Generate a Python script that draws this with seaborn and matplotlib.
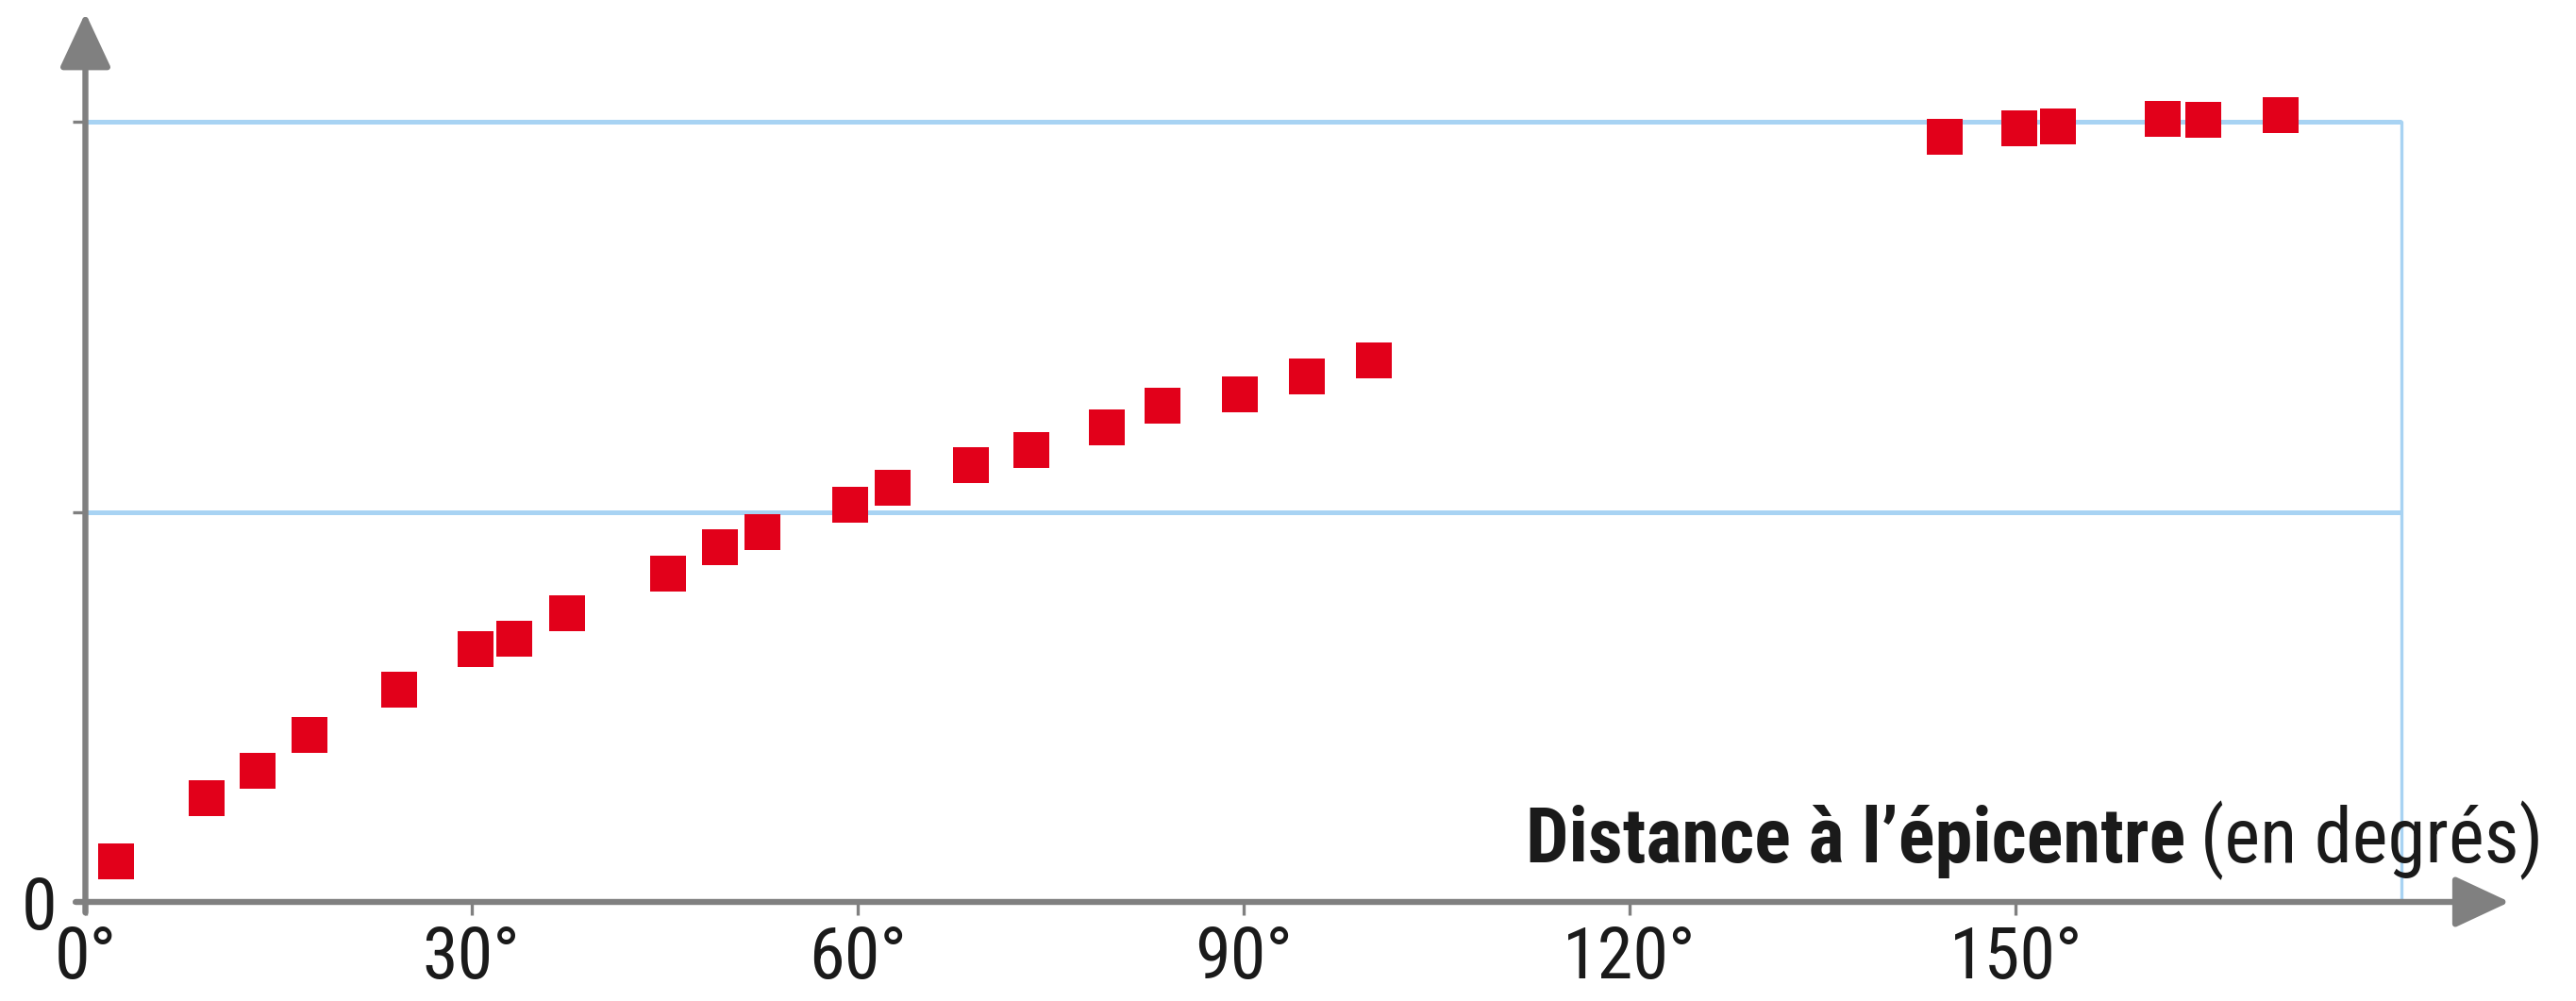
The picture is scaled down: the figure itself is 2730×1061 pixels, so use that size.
import matplotlib
matplotlib.use("Agg")
import matplotlib.pyplot as plt
from matplotlib import font_manager
import seaborn as sns
import pandas as pd

# Arrival times of seismic waves versus distance from the epicentre
distance_deg = [2.4, 9.4, 13.4, 17.4, 24.4, 30.3, 33.3, 37.4, 45.3, 49.3, 52.6,
                59.4, 62.7, 68.8, 73.5, 79.4, 83.7, 89.7, 94.9, 100.1,
                144.5, 150.3, 153.3, 161.4, 164.6, 170.6]
travel_time_min = [1.05, 2.65, 3.37, 4.29, 5.43, 6.48, 6.74, 7.41, 8.42, 9.09, 9.47,
                   10.19, 10.61, 11.2, 11.58, 12.17, 12.72, 13.01, 13.47, 13.89,
                   19.62, 19.83, 19.87, 20.08, 20.04, 20.17]

x_ticks = [0, 30, 60, 90, 120, 150]
x_tick_labels = ["0°", "30°", "60°", "90°", "120°", "150°"]
y_ticks = [0, 10, 20]
y_tick_labels = ["0", "", ""]
guide_levels = [10, 20]
guide_end = 180

df = pd.DataFrame({"distance": distance_deg, "time": travel_time_min})

sns.set_theme(style="white")

# Prefer a narrow sans face when one is installed
available = {f.name for f in font_manager.fontManager.ttflist}
face = "DejaVu Sans"
for cand in ["Liberation Sans Narrow", "Roboto Condensed", "DejaVu Sans Condensed",
             "Roboto"]:
    if cand in available:
        face = cand
        break
plt.rcParams["font.family"] = [face, "DejaVu Sans"]

W, H = 2730, 1061
fig = plt.figure(figsize=(W / 100, H / 100), dpi=100)
ax = fig.add_axes([90.5 / W, (H - 956) / H, 2564 / W, 938.6 / H])
ax.set_xlim(0, 188)
ax.set_ylim(0, 22.7)

axis_gray = "#808080"
guide_blue = "#a8d3f3"
text_col = "#1a1a1a"
fs_ticks = 55
fs_title = 46

# Light blue reference frame
for lvl in guide_levels:
    ax.plot([0, guide_end], [lvl, lvl], color=guide_blue, lw=3.6, zorder=1,
            solid_capstyle="butt")
ax.plot([guide_end, guide_end], [0, guide_levels[-1]], color=guide_blue, lw=2.4,
        zorder=1)

sns.scatterplot(data=df, x="distance", y="time", marker="s", s=780,
                color="#e2001a", linewidth=0, ax=ax, zorder=3)

for sp in ax.spines.values():
    sp.set_visible(False)

# Axes drawn as arrows
arrow_kw = dict(arrowstyle="-|>,head_length=0.6,head_width=0.28",
                mutation_scale=60, color=axis_gray, lw=4.6, shrinkA=0, shrinkB=0)
ax.annotate("", xy=(1.002, 0), xytext=(-0.004, 0), xycoords="axes fraction",
            arrowprops=arrow_kw, annotation_clip=False, zorder=2)
ax.annotate("", xy=(0, 1.004), xytext=(0, -0.012), xycoords="axes fraction",
            arrowprops=arrow_kw, annotation_clip=False, zorder=2)

ax.set_xticks(x_ticks)
ax.set_xticklabels(x_tick_labels)
ax.set_yticks(y_ticks)
ax.set_yticklabels(y_tick_labels)
ax.tick_params(axis="both", direction="out", length=10, width=2.4, color=axis_gray,
               labelsize=fs_ticks, labelcolor=text_col)
ax.tick_params(axis="x", pad=7, bottom=True)
ax.tick_params(axis="y", pad=12, left=True)
ax.set_xlabel("")
ax.set_ylabel("")
ax.grid(False)

# Axis title: bold part followed by regular part, fitted to its span
fig.canvas.draw()
renderer = fig.canvas.get_renderer()
x_right, y_base, span = 2695, 1 - 914 / H, 1076
t_reg = fig.text(x_right / W, y_base, "(en degrés)", ha="right", va="baseline",
                 fontsize=fs_title, color=text_col)
bb = t_reg.get_window_extent(renderer)
t_bold = fig.text((bb.x0 - 12) / W, y_base, "Distance à l’épicentre", ha="right",
                  va="baseline", fontsize=fs_title, fontweight="bold", color=text_col)
total = x_right - t_bold.get_window_extent(renderer).x0
scale = span / total
t_reg.set_fontsize(fs_title * scale)
bb = t_reg.get_window_extent(renderer)
t_bold.set_fontsize(fs_title * scale)
t_bold.set_x((bb.x0 - 12 * scale) / W)

fig.savefig("out.png", dpi=100, facecolor="white")
